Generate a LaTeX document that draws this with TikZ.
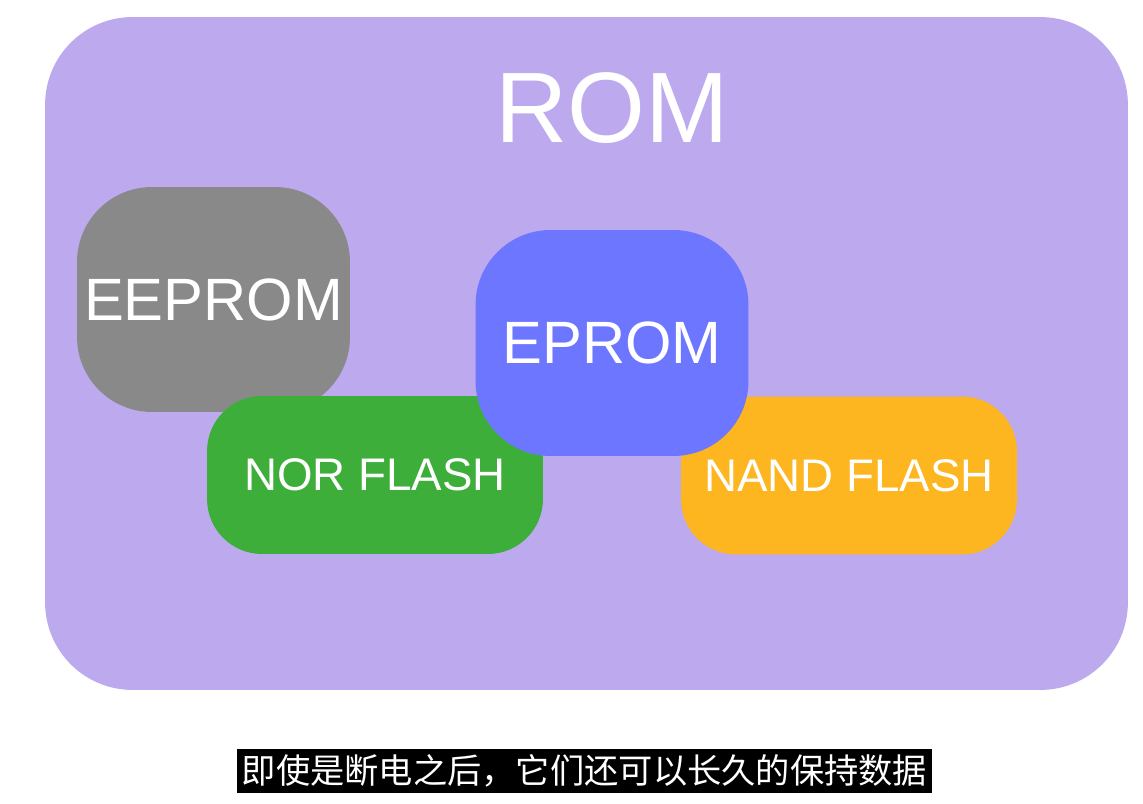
\documentclass[tikz,border=0pt]{standalone}
\usepackage{fontspec}
\setmainfont{Liberation Sans}
\newfontfamily\cjk{Noto Sans CJK SC}
\usetikzlibrary{positioning,calc}

\definecolor{romviolet}{RGB}{189,170,238}
\definecolor{eegray}{RGB}{137,137,137}
\definecolor{norgreen}{RGB}{61,174,57}
\definecolor{epblue}{RGB}{108,118,255}
\definecolor{nandorange}{RGB}{253,181,32}

\begin{document}
\begin{tikzpicture}[
    x=0.02cm, y=-0.02cm,
    blob/.style={rectangle, draw=none, text=white, inner sep=0pt, align=center},
    chip/.style={blob, rounded corners=1.5cm, minimum width=5.46cm, minimum height=4.5cm,
                 font=\fontsize{34}{40}\selectfont},
    flash/.style={blob, rounded corners=1.1cm, minimum width=6.72cm, minimum height=3.16cm,
                  font=\fontsize{26}{30}\selectfont},
    subtitle/.style={rectangle, fill=black, text=white, inner sep=0pt,
                     minimum width=13.9cm, minimum height=0.88cm,
                     font=\cjk\fontsize{19.5}{22}\selectfont}
  ]

  % ===== page frame =====
  \useasboundingbox[fill=white] (0,0) rectangle (1143,804);

  % ===== outer ROM region =====
  \node[blob, fill=romviolet, rounded corners=1.75cm,
        minimum width=21.66cm, minimum height=13.46cm] (rom) at (586.5,353.5) {};
  \node[text=white, inner sep=0pt, font=\fontsize{57}{64}\selectfont] (romtitle)
    at (612,108) {ROM};

  % ===== memory types (drawn back to front) =====
  \node[chip, fill=eegray] (eeprom) at (213.5,299.5) {EEPROM};
  \node[flash, fill=norgreen] (nor) at (375,475) {NOR FLASH};
  \node[flash, fill=nandorange] (nand) at (849,475.5) {NAND FLASH};
  \node[chip, fill=epblue, minimum height=4.52cm] (eprom) at (612,343) {EPROM};

  % ===== caption =====
  \node[subtitle] (caption) at (584.5,771)
    {即使是断电之后，它们还可以长久的保持数据};

\end{tikzpicture}
\end{document}
